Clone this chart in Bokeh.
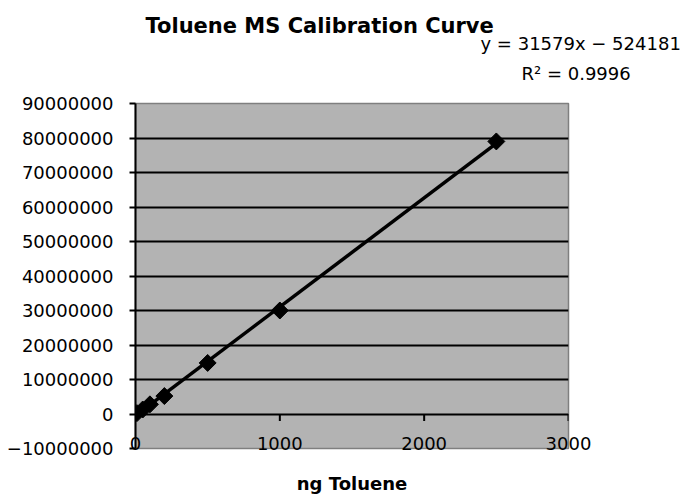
import numpy as np
from bokeh.plotting import figure
from bokeh.models import FixedTicker, Range1d, Title
from bokeh.embed import file_html
from bokeh.resources import INLINE

# ---- data ----
ng_toluene = [10, 50, 100, 200, 500, 1000, 2500]
ms_response = [250000, 1300000, 2800000, 5200000, 14800000, 30000000, 79000000]

slope = 31579
intercept = -524181
r_squared = 0.9996

x_ticks = [0, 1000, 2000, 3000]
x_tick_labels = ["0", "1000", "2000", "3000"]
y_ticks = [-10000000, 0, 10000000, 20000000, 30000000, 40000000,
           50000000, 60000000, 70000000, 80000000, 90000000]
y_tick_labels = ["\u221210000000", "0", "10000000", "20000000", "30000000",
                 "40000000", "50000000", "60000000", "70000000", "80000000",
                 "90000000"]
grid_ticks = [0, 10000000, 20000000, 30000000, 40000000,
              50000000, 60000000, 70000000, 80000000]

title_text = "Toluene MS Calibration Curve"
x_title = "ng Toluene"
equation_text = "y = %dx \u2212 %d" % (slope, -intercept)
r2_text = "R\u00b2 = %.4f" % r_squared

FONT = "DejaVu Sans"

p = figure(width=681, height=498, title=None,
           x_range=Range1d(0, 3000), y_range=Range1d(-10000000, 90000000),
           output_backend="svg", toolbar_location=None,
           min_border_left=135, min_border_right=113,
           min_border_top=103, min_border_bottom=50)

p.background_fill_color = "#b3b3b3"
p.border_fill_color = "white"
p.outline_line_color = "#7f7f7f"
p.outline_line_width = 1.5

# y axis
ya = p.yaxis[0]
ya.ticker = FixedTicker(ticks=y_ticks)
ya.major_label_overrides = {t: l for t, l in zip(y_ticks, y_tick_labels)}
ya.axis_line_color = "black"
ya.axis_line_width = 2
ya.major_tick_line_color = "black"
ya.major_tick_line_width = 2
ya.major_tick_in = 0
ya.major_tick_out = 6
ya.minor_tick_line_color = None
ya.major_label_standoff = 16
ya.major_label_text_font = FONT
ya.major_label_text_font_size = "18px"
ya.major_label_text_color = "black"

# x axis (labels only; axis line at y=0 drawn by grid + tick rays)
xa = p.xaxis[0]
xa.ticker = FixedTicker(ticks=x_ticks)
xa.major_label_overrides = {t: l for t, l in zip(x_ticks, x_tick_labels)}
xa.axis_line_color = None
xa.major_tick_line_color = None
xa.minor_tick_line_color = None
xa.major_tick_in = 0
xa.major_tick_out = 0
xa.major_label_standoff = -12
xa.major_label_text_font = FONT
xa.major_label_text_font_size = "18px"
xa.major_label_text_color = "black"
xa.axis_label = x_title
xa.axis_label_text_font = FONT
xa.axis_label_text_font_size = "18px"
xa.axis_label_text_font_style = "bold"
xa.axis_label_text_color = "black"
xa.axis_label_standoff = 20

p.xgrid.visible = False
p.ygrid.ticker = FixedTicker(ticks=grid_ticks)
p.ygrid.grid_line_color = "black"
p.ygrid.grid_line_width = 2

# tick marks on the horizontal axis at y = 0
p.ray(x=x_ticks, y=[0] * len(x_ticks), length=7, length_units="screen",
      angle=-np.pi / 2, line_color="black", line_width=2)

# trendline
x_min, x_max = min(ng_toluene), max(ng_toluene)
p.line(x=[x_min, x_max], y=[slope * x_min + intercept, slope * x_max + intercept],
       line_color="black", line_width=3.5)

# data points (diamonds)
p.scatter(x=ng_toluene, y=ms_response, marker="square", angle=np.pi / 4,
          size=12, fill_color="black", line_color="black", line_width=1)

# texts above the plot: nearest to the frame first
p.add_layout(Title(text=r2_text, align="left", offset=386, standoff=40,
                   text_font=FONT, text_font_size="18px",
                   text_font_style="normal", text_color="black"), "above")
p.add_layout(Title(text=equation_text, align="left", offset=345, standoff=-26,
                   text_font=FONT, text_font_size="18px",
                   text_font_style="normal", text_color="black"), "above")
p.add_layout(Title(text=title_text, align="left", offset=10, standoff=6,
                   text_font=FONT, text_font_size="21px",
                   text_font_style="bold", text_color="black"), "above")

open("out.html", "w").write(file_html(p, INLINE))
